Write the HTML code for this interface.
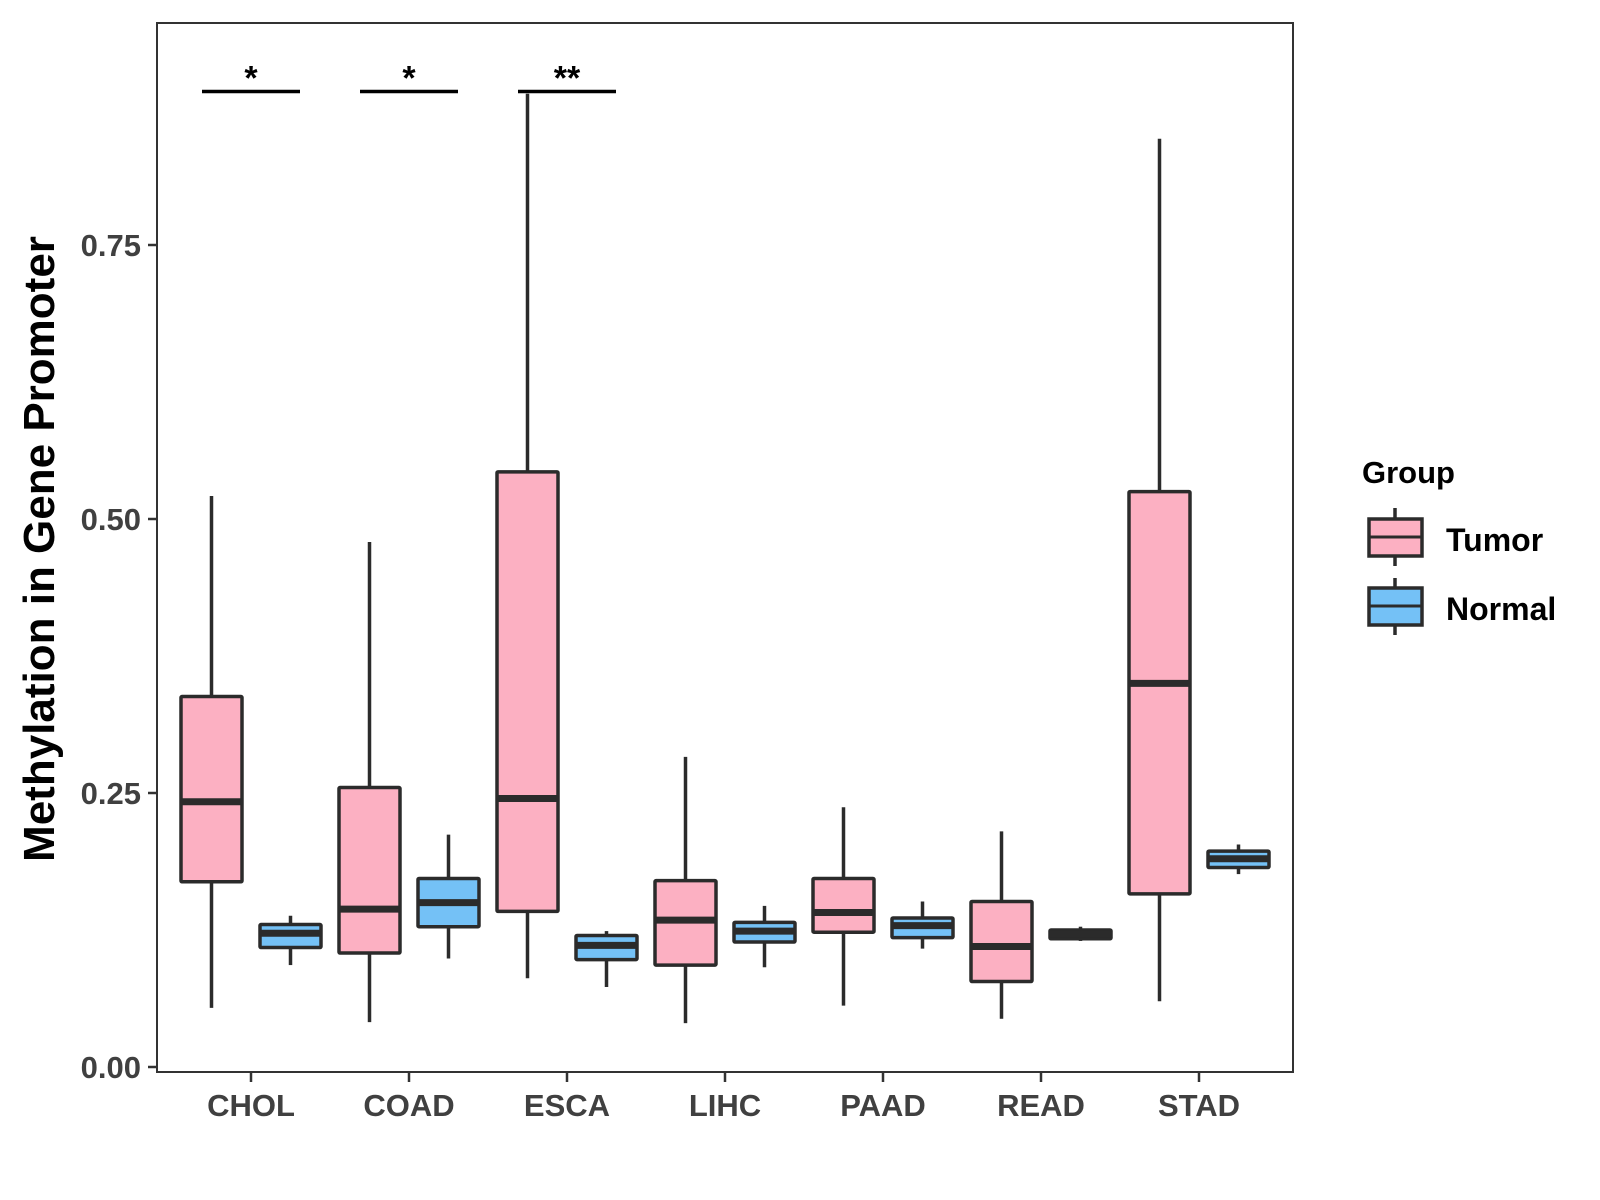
<!DOCTYPE html>
<html><head><meta charset="utf-8"><style>
body{margin:0;background:#fff;width:1600px;height:1200px;overflow:hidden}
svg{display:block}
</style></head><body>
<svg id="chart" width="1600" height="1200" xmlns="http://www.w3.org/2000/svg" font-family="Liberation Sans, sans-serif"></svg>
<script>
const categories = ["CHOL","COAD","ESCA","LIHC","PAAD","READ","STAD"];
// [lower whisker, Q1, median, Q3, upper whisker]
const tumorStats = [
  [0.054,0.169,0.242,0.338,0.521],
  [0.041,0.104,0.144,0.255,0.479],
  [0.081,0.142,0.245,0.543,0.888],
  [0.040,0.093,0.134,0.170,0.283],
  [0.056,0.123,0.141,0.172,0.237],
  [0.044,0.078,0.110,0.151,0.215],
  [0.060,0.158,0.350,0.525,0.847]
];
const normalStats = [
  [0.093,0.109,0.122,0.130,0.138],
  [0.099,0.128,0.150,0.172,0.212],
  [0.073,0.098,0.111,0.120,0.124],
  [0.091,0.114,0.124,0.132,0.147],
  [0.108,0.118,0.129,0.136,0.151],
  [0.115,0.117,0.121,0.125,0.128],
  [0.176,0.182,0.190,0.197,0.203]
];
const yTicks = [0, 0.25, 0.5, 0.75];
const yTickLabels = ["0.00","0.25","0.50","0.75"];
const sigLabels = ["*","*","**"];
const sigLevel = 0.89;

const svg = document.getElementById('chart');
const NS = "http://www.w3.org/2000/svg";
const PL=157, PR=1293, PT=23, PB=1072;
const y0px=1067, pxPerUnit=274/0.25;
function yScale(v){ return y0px - v*pxPerUnit; }
const step=158, x0=251;
function xScale(i){ return x0 + i*step; }
const dodge=39.5, boxW=61;

function el(tag, attrs, parent){
  const e=document.createElementNS(NS,tag);
  for(const k in attrs) e.setAttribute(k, attrs[k]);
  (parent||svg).appendChild(e); return e;
}

const panel = el('rect',{x:PL,y:PT,width:PR-PL,height:PB-PT,fill:'#fff',stroke:'#333','stroke-width':2});



yTicks.forEach((v,i)=>{
  const y=yScale(v);
  const t=el('line',{x1:PL-9,x2:PL,y1:y,y2:y,stroke:'#333','stroke-width':2.5});
  
  
  const tx=el('text',{x:PL-16,y:y+11,'text-anchor':'end','font-size':31,'font-weight':'bold',fill:'#404040'});
  tx.textContent=yTickLabels[i];
  
  
});
categories.forEach((c,i)=>{
  const x=xScale(i);
  const t=el('line',{x1:x,x2:x,y1:PB,y2:PB+10,stroke:'#333','stroke-width':2.5});
  
  
  const tx=el('text',{x:x,y:1116,'text-anchor':'middle','font-size':31,'font-weight':'bold',fill:'#404040'});
  tx.textContent=c;
  
  
});

function drawBox(cx, s, fill, name){
  const g=el('g',{});
  
  
  el('line',{x1:cx,x2:cx,y1:yScale(s[4]),y2:yScale(s[3]),stroke:'#2b2b2b','stroke-width':3.5},g);
  el('line',{x1:cx,x2:cx,y1:yScale(s[1]),y2:yScale(s[0]),stroke:'#2b2b2b','stroke-width':3.5},g);
  el('rect',{x:cx-boxW/2,y:yScale(s[3]),width:boxW,height:yScale(s[1])-yScale(s[3]),fill:fill,stroke:'#2b2b2b','stroke-width':3.5,rx:1},g);
  el('line',{x1:cx-boxW/2,x2:cx+boxW/2,y1:yScale(s[2]),y2:yScale(s[2]),stroke:'#2b2b2b','stroke-width':7},g);
}
categories.forEach((c,i)=>{
  drawBox(xScale(i)-dodge, tumorStats[i], '#fcb0c2', 'tumor-box-'+c.toLowerCase());
  drawBox(xScale(i)+dodge, normalStats[i], '#74c1f6', 'normal-box-'+c.toLowerCase());
});
sigLabels.forEach((s,i)=>{
  const x=xScale(i), y=yScale(sigLevel);
  const l=el('line',{x1:x-49,x2:x+49,y1:y,y2:y,stroke:'#000','stroke-width':3.5});
  
  
  const t=el('text',{x:x,y:y-2,'text-anchor':'middle','font-size':34,'font-weight':'bold',fill:'#000'});
  t.textContent=s;
  
  
});
</script>
<svg style="position:absolute;left:0;top:0" width="1600" height="1200" xmlns="http://www.w3.org/2000/svg" font-family="Liberation Sans, sans-serif">
  <text transform="translate(54,549) rotate(-90)" text-anchor="middle" font-size="44" font-weight="bold" fill="#000">Methylation in Gene Promoter</text>
  <text x="1362" y="483" font-size="31" font-weight="bold" fill="#000">Group</text>
  <g>
    <line x1="1395" x2="1395" y1="508" y2="566" stroke="#2b2b2b" stroke-width="3.5"/>
    <rect x="1369" y="519" width="53" height="37" fill="#fcb0c2" stroke="#2b2b2b" stroke-width="3.5"/>
    <line x1="1369" x2="1422" y1="537" y2="537" stroke="#2b2b2b" stroke-width="3"/>
    <text x="1446" y="551" font-size="32" font-weight="bold" fill="#000">Tumor</text>
  </g>
  <g>
    <line x1="1395" x2="1395" y1="578" y2="635" stroke="#2b2b2b" stroke-width="3.5"/>
    <rect x="1369" y="588" width="53" height="37" fill="#74c1f6" stroke="#2b2b2b" stroke-width="3.5"/>
    <line x1="1369" x2="1422" y1="606" y2="606" stroke="#2b2b2b" stroke-width="3"/>
    <text x="1446" y="620" font-size="32" font-weight="bold" fill="#000">Normal</text>
  </g>
</svg>
</body></html>
